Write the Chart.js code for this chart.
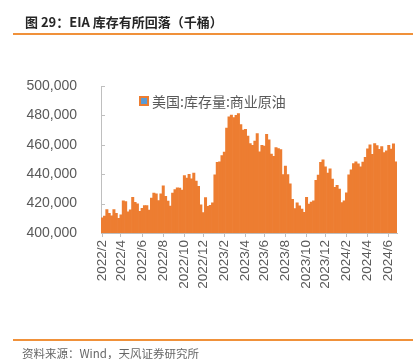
<!DOCTYPE html>
<html>
<head>
<meta charset="utf-8">
<script src="https://cdn.jsdelivr.net/npm/chart.js@4.4.1/dist/chart.umd.min.js"></script>
<style>
  html, body { margin: 0; padding: 0; background: #fff; }
  body { width: 418px; height: 359px; position: relative; overflow: hidden; }
  #c { position: absolute; left: 0; top: 0; }
  .title { position: absolute; left: 25px; top: 12px; font: bold 13px "Noto Sans CJK SC", sans-serif; color: #262626; white-space: nowrap; }
  .rule { position: absolute; left: 13px; width: 400px; height: 1.5px; background: #F0913A; }
  .source { position: absolute; left: 22px; top: 345px; font: 11.5px "Noto Sans CJK SC", sans-serif; color: #666; white-space: nowrap; }
  .legend { position: absolute; left: 139px; top: 91px; font: 14px "Noto Sans CJK SC", sans-serif; color: #595959; white-space: nowrap; display: flex; align-items: center; }
  .legend .box { width: 10px; height: 10px; box-sizing: border-box; border: 2px solid #ED7D31; background: #5B9BD5; margin-right: 3px; }
</style>
</head>
<body>
<canvas id="c" width="418" height="359"></canvas>
<div class="title">图 29：EIA 库存有所回落（千桶）</div>
<div class="rule" style="top:33px"></div>
<div class="rule" style="top:339px"></div>
<div class="source">资料来源：Wind，天风证券研究所</div>
<div class="legend"><span class="box"></span><span id="legendText"></span></div>
<script>
const seriesName = "美国:库存量:商业原油";

const weekDates = [
  "2022-02-04","2022-02-11","2022-02-18","2022-02-25",
  "2022-03-04","2022-03-11","2022-03-18","2022-03-25",
  "2022-04-01","2022-04-08","2022-04-15","2022-04-22","2022-04-29",
  "2022-05-06","2022-05-13","2022-05-20","2022-05-27",
  "2022-06-03","2022-06-10","2022-06-17","2022-06-24",
  "2022-07-01","2022-07-08","2022-07-15","2022-07-22","2022-07-29",
  "2022-08-05","2022-08-12","2022-08-19","2022-08-26",
  "2022-09-02","2022-09-09","2022-09-16","2022-09-23","2022-09-30",
  "2022-10-07","2022-10-14","2022-10-21","2022-10-28",
  "2022-11-04","2022-11-11","2022-11-18","2022-11-25",
  "2022-12-02","2022-12-09","2022-12-16","2022-12-23","2022-12-30",
  "2023-01-06","2023-01-13","2023-01-20","2023-01-27",
  "2023-02-03","2023-02-10","2023-02-17","2023-02-24",
  "2023-03-03","2023-03-10","2023-03-17","2023-03-24","2023-03-31",
  "2023-04-07","2023-04-14","2023-04-21","2023-04-28",
  "2023-05-05","2023-05-12","2023-05-19","2023-05-26",
  "2023-06-02","2023-06-09","2023-06-16","2023-06-23","2023-06-30",
  "2023-07-07","2023-07-14","2023-07-21","2023-07-28",
  "2023-08-04","2023-08-11","2023-08-18","2023-08-25",
  "2023-09-01","2023-09-08","2023-09-15","2023-09-22","2023-09-29",
  "2023-10-06","2023-10-13","2023-10-20","2023-10-27",
  "2023-11-03","2023-11-10","2023-11-17","2023-11-24",
  "2023-12-01","2023-12-08","2023-12-15","2023-12-22","2023-12-29",
  "2024-01-05","2024-01-12","2024-01-19","2024-01-26",
  "2024-02-02","2024-02-09","2024-02-16","2024-02-23",
  "2024-03-01","2024-03-08","2024-03-15","2024-03-22","2024-03-29",
  "2024-04-05","2024-04-12","2024-04-19","2024-04-26",
  "2024-05-03","2024-05-10","2024-05-17","2024-05-24","2024-05-31",
  "2024-06-07","2024-06-14","2024-06-21","2024-06-28"
];

const stocks2022 = [
  410400, 411500, 416000, 413400,
  411600, 415900, 413400, 409900,
  412400, 421800, 421300, 414400, 415700,
  424200, 420800, 419800, 414700,
  416800, 418700, 418700, 415600,
  423800, 427100, 426600, 422100, 426600,
  432100, 425000, 421700, 418300,
  427200, 429600, 430800, 430600, 429200,
  439100, 437400, 439900, 436800,
  440800, 435400, 431700, 419100,
  413900, 424100, 418200, 418900, 420600
];
const stocks2023 = [
  439600, 448000, 448500, 452700,
  455100, 471400, 479000, 480200,
  478500, 480100, 481200, 473700, 470000,
  470600, 466000, 460900, 459600,
  462600, 467600, 455200, 459700,
  459200, 467100, 463300, 453700, 452200,
  458100, 457400, 456800, 439800,
  445600, 439700, 433500, 422900,
  416600, 420600, 418500, 416300, 414100,
  424200, 419700, 421100, 421900,
  435800, 439400, 448100, 449700,
  445000, 440800, 443700, 436600, 431100
];
const stocks2024 = [
  432400, 429900, 420700, 421900,
  427400, 439500, 442900, 447200,
  448500, 447000, 445000, 448200, 451400,
  457300, 460000, 453600, 460900,
  459500, 457000, 458800, 454700, 455900,
  459700, 457100, 460700, 448500
];

const tickLabels = ["2022/2","2022/4","2022/6","2022/8","2022/10","2022/12",
  "2023/2","2023/4","2023/6","2023/8","2023/10","2023/12",
  "2024/2","2024/4","2024/6"];

const yTicks = [400000, 420000, 440000, 460000, 480000, 500000];

const stockValues = stocks2022.concat(stocks2023, stocks2024);

// the first weekly date of each listed month carries its tick label
function monthKey(d) {
  const [y, m] = d.split("-");
  return y + "/" + parseInt(m, 10);
}
const tickIndex = {};
weekDates.forEach((d, i) => {
  const k = monthKey(d);
  if (tickLabels.includes(k) && !(k in tickIndex)) tickIndex[k] = i;
});
const tickAt = {};
Object.keys(tickIndex).forEach(k => { tickAt[tickIndex[k]] = k; });

document.getElementById("legendText").textContent = seriesName;

const axisGray = "#BFBFBF";
const textGray = "#595959";

const innerYTicks = {
  id: "innerYTicks",
  afterDraw(chart) {
    const y = chart.scales.y;
    const ctx = chart.ctx;
    ctx.save();
    ctx.strokeStyle = axisGray;
    ctx.lineWidth = 1;
    yTicks.forEach(v => {
      const py = Math.round(y.getPixelForValue(v)) + 0.5;
      ctx.beginPath();
      ctx.moveTo(chart.chartArea.left, py);
      ctx.lineTo(chart.chartArea.left + 4, py);
      ctx.stroke();
    });
    ctx.restore();
  }
};

new Chart(document.getElementById("c"), {
  type: "bar",
  data: {
    labels: weekDates,
    datasets: [{
      label: seriesName,
      data: stockValues,
      backgroundColor: "#ED7D31",
      borderWidth: 0,
      barPercentage: 1.0,
      categoryPercentage: 1.0
    }]
  },
  options: {
    responsive: false,
    animation: false,
    devicePixelRatio: 1,
    layout: { padding: { left: 0, top: 86, right: 21, bottom: 56 } },
    plugins: { legend: { display: false }, tooltip: { enabled: false } },
    scales: {
      x: {
        afterBuildTicks(scale) {
          scale.ticks = scale.ticks.filter(t => t.value in tickAt);
        },
        afterFit(scale) { scale.height = 70; },
        grid: { display: true, drawOnChartArea: false, drawTicks: true, tickLength: 4, offset: false, color: axisGray },
        border: { display: true, color: axisGray },
        ticks: {
          autoSkip: false,
          maxRotation: 90,
          minRotation: 90,
          padding: 3,
          color: textGray,
          font: { family: "'Liberation Sans', Arial, sans-serif", size: 13.5 },
          callback: (value) => tickAt[value] || ""
        }
      },
      y: {
        min: 400000,
        max: 500000,
        afterBuildTicks(scale) { scale.ticks = yTicks.map(v => ({ value: v })); },
        afterFit(scale) { scale.width = 101; },
        grid: { display: false },
        border: { display: true, color: axisGray },
        ticks: {
          padding: 16,
          color: textGray,
          font: { family: "'Liberation Sans', Arial, sans-serif", size: 14 },
          callback: (v) => Number(v).toLocaleString("en-US")
        }
      }
    }
  },
  plugins: [innerYTicks]
});
</script>
</body>
</html>
